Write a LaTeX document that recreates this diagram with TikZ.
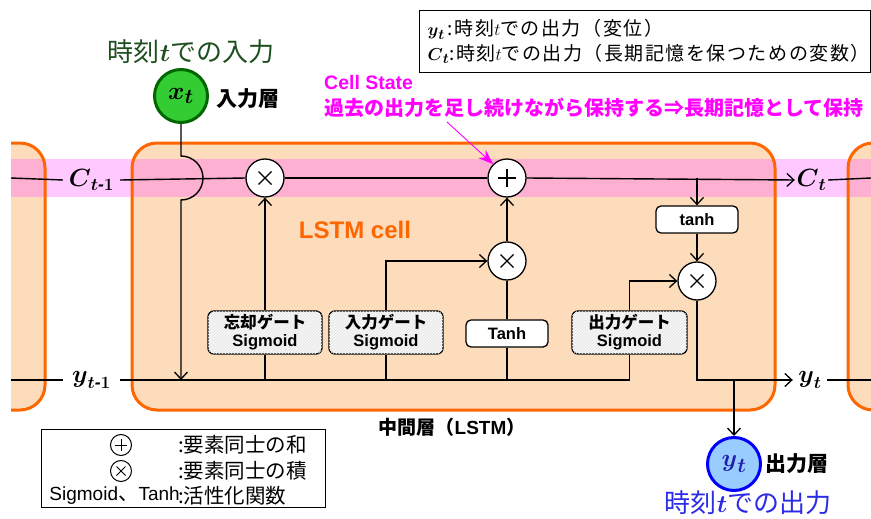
\documentclass[tikz,border=0pt]{standalone}
\usepackage{amsmath}
\usepackage{fontspec}
\usetikzlibrary{arrows.meta,patterns,calc}
\setmainfont{Liberation Sans}
\newfontfamily\jp{Noto Sans CJK JP}
\definecolor{cellor}{HTML}{FF6600}
\definecolor{cellfill}{HTML}{FDDCBC}
\definecolor{bandpink}{HTML}{FF55FF}
\definecolor{ingreen}{HTML}{33CC33}
\definecolor{indark}{HTML}{006600}
\definecolor{titlegreen}{HTML}{1E4F1E}
\definecolor{outfill}{HTML}{99CCFF}
\definecolor{outblue}{HTML}{0000FF}
\definecolor{titleblue}{HTML}{2B2BE6}
\definecolor{mag}{HTML}{FF00FF}
\newcommand{\fsz}[2]{\fontsize{#1}{#2}\selectfont}
\newcommand{\bv}[1]{\boldsymbol{#1}}
\newcommand{\tmone}{\bv{t}\text{\bfseries\itshape -}\bv{1}}
\tikzset{
  conn/.style={line width=1.4pt, black},
  arr/.style={-{Straight Barb[length=7pt,width=13pt,line width=1.3pt]}},
  op/.style={circle, draw, fill=white, line width=1.3pt, minimum size=38pt, inner sep=0pt},
  plusop/.style={op, path picture={
      \draw[line width=1.4pt] ([xshift=-9pt]path picture bounding box.center) -- ([xshift=9pt]path picture bounding box.center);
      \draw[line width=1.4pt] ([yshift=-9pt]path picture bounding box.center) -- ([yshift=9pt]path picture bounding box.center);}},
  timesop/.style={op, path picture={
      \draw[line width=1.4pt] ([shift={(-6.5pt,-6.5pt)}]path picture bounding box.center) -- ([shift={(6.5pt,6.5pt)}]path picture bounding box.center);
      \draw[line width=1.4pt] ([shift={(-6.5pt,6.5pt)}]path picture bounding box.center) -- ([shift={(6.5pt,-6.5pt)}]path picture bounding box.center);}},
  gatebox/.style={draw, rounded corners=6pt, line width=1.3pt, fill=gray!6,
      postaction={pattern=north east lines, pattern color=gray!22},
      minimum width=114pt, minimum height=43pt, align=center, inner sep=0pt,
      font=\bfseries\fsz{16.5}{18}},
  actbox/.style={draw, rounded corners=5pt, line width=1.3pt, fill=white,
      minimum width=82pt, minimum height=27pt, inner sep=0pt, font=\bfseries\fsz{16.5}{18}},
  vlabel/.style={inner sep=0pt, minimum height=20pt, font=\fsz{25}{26}},
  cellshape/.style={rounded corners=25pt, fill=cellfill},
  cellborder/.style={rounded corners=25pt, draw=cellor, line width=3pt},
}
\begin{document}
\begin{tikzpicture}[x=1pt,y=-1pt]
\useasboundingbox (0,0) rectangle (871,519);
% cells and band
\begin{scope}
\clip (11,0) rectangle (871,519);
\fill[cellshape] (-60,143) rectangle (45,410);
\fill[cellshape] (132,143) rectangle (775,410);
\fill[cellshape] (848,143) rectangle (960,410);
\fill[bandpink, opacity=0.32] (11,159) rectangle (871,197);
\draw[cellborder] (-60,143) rectangle (45,410);
\draw[cellborder] (132,143) rectangle (775,410);
\draw[cellborder] (848,143) rectangle (960,410);
\end{scope}

% end coordinates
\coordinate (cL) at (11,178);
\coordinate (cR) at (871,178);
\coordinate (yL) at (11,380);
\coordinate (yR) at (871,380);
\coordinate (jx) at (181,380);
\coordinate (bumpTop) at (181,156);

% labels on the lines
\node[vlabel, minimum width=57pt] (Cm1) at (91.5,180) {$\bv{C}_{\tmone}$};
\node[vlabel, minimum width=57pt] (ym1) at (91.5,380) {$\bv{y}_{\tmone}$};
\node[vlabel, minimum width=33pt] (Ct) at (811.5,180) {$\bv{C}_{\bv{t}}$};
\node[vlabel, minimum width=34pt] (ytl) at (810,380) {$\bv{y}_{\bv{t}}$};

% operators
\node[timesop] (fmul) at (265,178) {};
\node[plusop] (add) at (507,178) {};
\node[timesop] (imul) at (507,261) {};
\node[timesop] (omul) at (697,281) {};

% activation boxes
\node[actbox] (tanhC) at (697,219.5) {tanh};
\node[gatebox] (fgate) at (265,332.5) {{\jp 忘却ゲート}\\Sigmoid};
\node[gatebox] (igate) at (386,332.5) {{\jp 入力ゲート}\\Sigmoid};
\node[actbox] (tanhI) at (507,333.5) {Tanh};
\node[gatebox, minimum width=115pt] (ogate) at (629.5,332.5) {{\jp 出力ゲート}\\Sigmoid};

% input / output
\node[circle, draw=indark, fill=ingreen, line width=3pt, minimum size=53pt, inner sep=0pt, font=\fsz{29}{30}] (xt) at (181,96) {$\bv{x}_{\bv{t}}$};
\node[circle, draw=outblue, fill=outfill, line width=3pt, minimum size=53pt, inner sep=0pt, font=\fsz{29}{30}, text=titleblue!75!black] (yt) at (734,464) {$\bv{y}_{\bv{t}}$};

% connectors: cell state line
\draw[conn] (cL) -- (Cm1.west);
\draw[conn] (Cm1.east) -- (fmul.west);
\draw[conn] (fmul.east) -- (add.west);
\draw[conn,arr] (add.east) -- (Ct.west);
\draw[conn] (Ct.east) -- (cR);
\draw[conn,arr] (tanhC.north |- add.east) -- (tanhC.north);
\draw[conn,arr] (tanhC.south) -- (omul.north);
% input line with jump
\draw[conn,arr] (xt.south) -- (bumpTop) arc[start angle=-90, end angle=90, radius=22] -- (jx);
% y line
\draw[conn] (yL) -- (ym1.west);
\draw[conn] (ym1.east) -- (ogate.south |- jx);
\draw[conn] (fgate.south) -- (fgate.south |- jx);
\draw[conn] (igate.south) -- (igate.south |- jx);
\draw[conn] (tanhI.south) -- (tanhI.south |- jx);
\draw[conn] (ogate.south) -- (ogate.south |- jx);
\draw[conn,arr] (fgate.north) -- (fmul.south);
\draw[conn,arr] (igate.north) |- (imul.west);
\draw[conn] (tanhI.north) -- (imul.south);
\draw[conn,arr] (imul.north) -- (add.south);
\draw[conn,arr] (ogate.north) |- (omul.west);
\draw[conn,arr] (omul.south) |- (ytl.west);
\draw[conn] (ytl.east) -- (yR);
\draw[conn,arr] (ytl.west -| yt.north) -- (yt.north);

% texts
\node[font=\jp\fsz{26}{28}, text=titlegreen] (intitle) at (191,52) {時刻$\bv{t}$での入力};
\node[font=\jp\bfseries\fsz{21}{24}, anchor=west, inner sep=0pt] (inlayer) at (216,99) {入力層};
\node[font=\jp\bfseries\fsz{21}{24}, anchor=west, inner sep=0pt] (outlayer) at (765,464) {出力層};
\node[font=\jp\fsz{26}{28}, text=titleblue] (outtitle) at (748,503) {時刻$\bv{t}$での出力};
\node[font=\bfseries\fsz{24}{26}, text=cellor] (lstmcell) at (355,230) {LSTM cell};
\node[font=\bfseries\fsz{19}{22}] (mid) at (452,427) {{\jp 中間層（}LSTM{\jp ）}};

% cell state annotation
\node[font=\bfseries\fsz{19.5}{22}, text=mag, anchor=west, inner sep=0pt] (cs1) at (324,83) {Cell State};
\node[font=\jp\bfseries\fsz{20}{22}, text=mag, anchor=west, inner sep=0pt] (cs2) at (324,108) {過去の出力を足し続けながら保持する⇒長期記憶として保持};
\coordinate (csA) at (447,122);
\draw[mag, line width=0.9pt, -{Stealth[length=15pt,width=11pt]}] (csA) -- (add.north west);

% top legend
\node[draw, line width=1pt, anchor=north west, minimum width=451pt, minimum height=62pt, inner xsep=8pt, text width=435pt, align=left, font=\jp\fsz{19}{24.5}\addfontfeature{LetterSpace=8}] (legA) at (419,10)
 {$\bv{y}_{\bv{t}}$\,:時刻$t$での出力（変位）\\$\bv{C}_{\bv{t}}$:時刻$t$での出力（長期記憶を保つための変数）};

% bottom legend
\node[draw, line width=1pt, minimum width=284pt, minimum height=78pt, inner sep=0pt] (legB) at (183,468) {};
\node[circle, draw, line width=1pt, minimum size=21pt, inner sep=0pt, path picture={
      \draw[line width=1pt] ([xshift=-6pt]path picture bounding box.center) -- ([xshift=6pt]path picture bounding box.center);
      \draw[line width=1pt] ([yshift=-6pt]path picture bounding box.center) -- ([yshift=6pt]path picture bounding box.center);}] (lgPlus) at (121,445) {};
\node[circle, draw, line width=1pt, minimum size=21pt, inner sep=0pt, path picture={
      \draw[line width=1pt] ([shift={(-4.5pt,-4.5pt)}]path picture bounding box.center) -- ([shift={(4.5pt,4.5pt)}]path picture bounding box.center);
      \draw[line width=1pt] ([shift={(-4.5pt,4.5pt)}]path picture bounding box.center) -- ([shift={(4.5pt,-4.5pt)}]path picture bounding box.center);}] (lgTimes) at (121,471) {};
\node[font=\jp\fsz{20.5}{22}, anchor=west, inner sep=0pt] (lgT1) at (178,445) {:要素同士の和};
\node[font=\jp\fsz{20.5}{22}, anchor=west, inner sep=0pt] (lgT2) at (178,471) {:要素同士の積};
\node[font=\fsz{19}{22}, anchor=east, inner sep=0pt] (lgT3a) at (180,496) {Sigmoid{\jp\fsz{20.5}{22}、}Tanh};
\node[font=\jp\fsz{20.5}{22}, anchor=west, inner sep=0pt] (lgT3b) at (178,496) {:活性化関数};
\end{tikzpicture}
\end{document}
